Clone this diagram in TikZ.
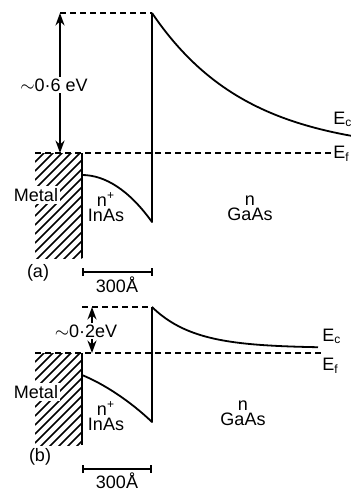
\documentclass[tikz,border=0pt]{standalone}
\usepackage{fontspec}
\setmainfont{Liberation Sans}
\usetikzlibrary{arrows.meta}
\tikzset{
  band/.style   ={line width=0.9pt, line join=round},
  lvl/.style    ={line width=0.9pt, dash pattern=on 3pt off 2pt},
  gap/.style    ={{Stealth[length=2.2mm, width=1.6mm]}-{Stealth[length=2.2mm, width=1.6mm]},
                  line width=0.7pt},
  hatchln/.style={line width=0.8pt},
  lbl/.style    ={font=\fontsize{9}{7.5}\selectfont, inner sep=1pt, align=center},
  wlbl/.style   ={lbl, fill=white},
  sbar/.style   ={{Bar[width=4pt]}-{Bar[width=4pt]}, line width=0.9pt},
}
\begin{document}
\begin{tikzpicture}[x=0.5pt, y=-0.5pt]
  \useasboundingbox (0,0) rectangle (351,493);

  % (a)
  \coordinate (aTopL) at (60,13);
  \coordinate (aSpikeTop) at (152,13);
  \coordinate (aSpikeBot) at (152,222);
  \coordinate (aFL) at (35,153);
  \coordinate (aFR) at (333,153);
  \coordinate (aArrBot) at (60,153);
  \coordinate (aMetTop) at (82,153);
  \coordinate (aMetBot) at (82,258);
  \coordinate (aInAs) at (82,175);
  \begin{scope}
    \clip (35,153) rectangle (82,258);
    \foreach \k in {0,...,18}
      \draw[hatchln] (35,{153+\k*9}) -- ++(60,-60);
  \end{scope}
  \draw[band] (aMetTop) -- (aMetBot);
  \draw[lvl] (aTopL) -- (aSpikeTop);
  \draw[lvl] (aFL) -- (aFR);
  \draw[band] (aInAs) .. controls (105,175) and (129,190) .. (aSpikeBot)
    -- (aSpikeTop);
  \draw[band] plot[domain=152:351, samples=80]
    (\x, {153-140*exp(-(\x-152)/95)});
  \draw[gap] (aTopL) -- (aArrBot);
  \node[wlbl] (gapA) at (54,85) {$\sim$0·6 eV};
  \node[wlbl] (metalA) at (36,195) {Metal};
  \node[lbl] (inasA) at (106,207) {n\textsuperscript{+}\\InAs};
  \node[lbl] (gaasA) at (250,208) {n\\GaAs};
  \node[lbl, anchor=west, inner sep=0.5pt] (ecA) at (332,119) {E\textsubscript{c}};
  \node[lbl, anchor=west, inner sep=0.5pt] (efA) at (332,154) {E\textsubscript{f}};
  \node[lbl] (tagA) at (38,273) {(a)};
  \coordinate (aBarL) at (82,272);
  \coordinate (aBarR) at (153,272);
  \draw[sbar] (aBarL) -- (aBarR);
  \node[lbl] (lenA) at (117,285) {300Å};

  % (b)
  \coordinate (bTopL) at (82,307);
  \coordinate (bSpikeTop) at (152,307);
  \coordinate (bSpikeBot) at (152,422);
  \coordinate (bFL) at (35,353);
  \coordinate (bFR) at (323,353);
  \coordinate (bArrTop) at (92,307);
  \coordinate (bArrBot) at (92,353);
  \coordinate (bMetTop) at (82,353);
  \coordinate (bMetBot) at (82,445);
  \coordinate (bInAs) at (82,375);
  \begin{scope}
    \clip (35,353) rectangle (82,445);
    \foreach \k in {0,...,16}
      \draw[hatchln] (35,{353+\k*9}) -- ++(60,-60);
  \end{scope}
  \draw[band] (bMetTop) -- (bMetBot);
  \draw[lvl] (bTopL) -- (bSpikeTop);
  \draw[lvl] (bFL) -- (bFR);
  \draw[band] (bInAs) .. controls (104,384) and (130,401) .. (bSpikeBot)
    -- (bSpikeTop);
  \draw[band] plot[domain=152:318, samples=60]
    (\x, {348-41*exp(-(\x-152)/42)});
  \draw[gap] (bArrTop) -- (bArrBot);
  \node[wlbl] (gapB) at (86,331) {$\sim$0·2eV};
  \node[wlbl] (metalB) at (36,392) {Metal};
  \node[lbl] (inasB) at (106,416) {n\textsuperscript{+}\\InAs};
  \node[lbl] (gaasB) at (243,413) {n\\GaAs};
  \node[lbl, anchor=west] (ecB) at (320,336) {E\textsubscript{c}};
  \node[lbl, anchor=west] (efB) at (320,366) {E\textsubscript{f}};
  \node[lbl] (tagB) at (40,457) {(b)};
  \coordinate (bBarL) at (82,469);
  \coordinate (bBarR) at (152,469);
  \draw[sbar] (bBarL) -- (bBarR);
  \node[lbl] (lenB) at (117,481) {300Å};
\end{tikzpicture}
\end{document}
